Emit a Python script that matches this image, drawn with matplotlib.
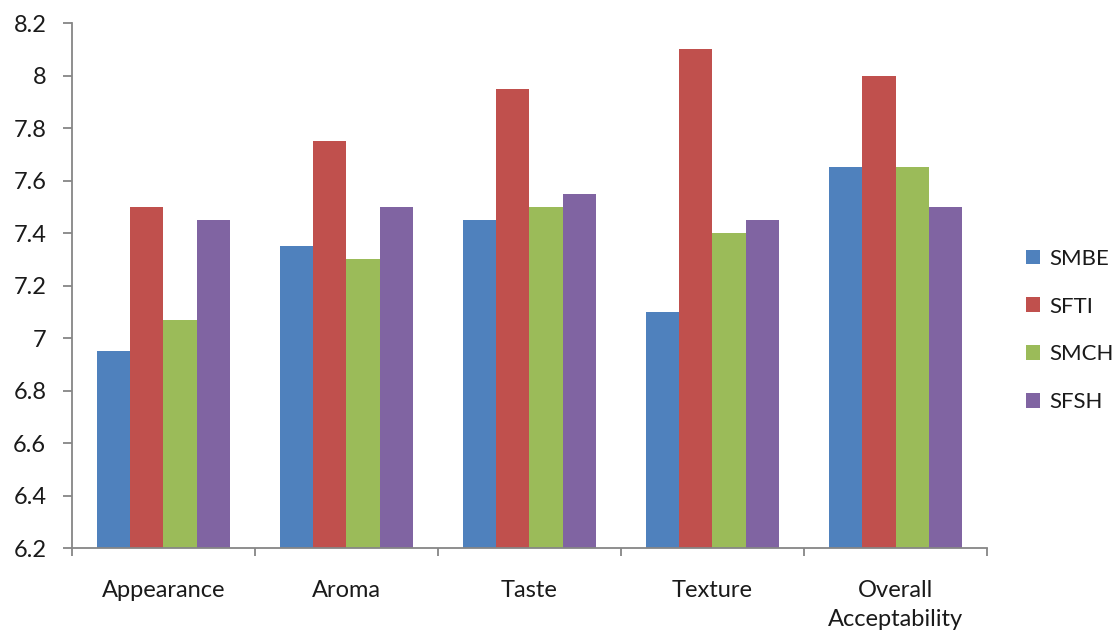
# Sensory scores of the four samples, grouped bars per attribute
import matplotlib.pyplot as plt
import numpy as np

plt.rcParams['font.family'] = ['Lato', 'DejaVu Sans']

attributes = ["Appearance", "Aroma", "Taste", "Texture", "Overall\nAcceptability"]
samples = ["SMBE", "SFTI", "SMCH", "SFSH"]

smbe = [6.95, 7.35, 7.45, 7.10, 7.65]
sfti = [7.50, 7.75, 7.95, 8.10, 8.00]
smch = [7.07, 7.30, 7.50, 7.40, 7.65]
sfsh = [7.45, 7.50, 7.55, 7.45, 7.50]

colors = ["#4F81BD", "#C0504D", "#9BBB59", "#8064A2"]
yticks = [6.2, 6.4, 6.6, 6.8, 7.0, 7.2, 7.4, 7.6, 7.8, 8.0, 8.2]
ytick_labels = ["6.2", "6.4", "6.6", "6.8", "7", "7.2", "7.4", "7.6", "7.8", "8", "8.2"]

fig = plt.figure(figsize=(11.14, 6.32), dpi=100)
ax = fig.add_axes([0.0646, 0.1329, 0.8214, 0.8307])

x = np.arange(len(attributes))
w = 1 / 5.5
for i, (vals, name) in enumerate(zip([smbe, sfti, smch, sfsh], samples)):
    ax.bar(x + (i - 1.5) * w, np.array(vals) - 6.2, w, bottom=6.2,
           color=colors[i], label=name, linewidth=0)

ax.set_xlim(-0.5, len(attributes) - 0.5)
ax.set_ylim(6.2, 8.2)

axis_grey = "#868686"
txt = "#1a1a1a"
for side in ["top", "right"]:
    ax.spines[side].set_visible(False)
for side in ["left", "bottom"]:
    ax.spines[side].set_color(axis_grey)
    ax.spines[side].set_linewidth(1.3)

ax.set_yticks(yticks)
ax.set_yticklabels(ytick_labels)
ax.tick_params(axis="y", length=6.5, width=1.3, color=axis_grey, pad=12,
               labelsize=17, labelcolor=txt)

ax.set_xticks(x)
ax.set_xticklabels(attributes, linespacing=1.5)
ax.tick_params(axis="x", which="major", length=0, pad=23, labelsize=17,
               labelcolor=txt)
ax.set_xticks(np.arange(len(attributes) + 1) - 0.5, minor=True)
ax.tick_params(axis="x", which="minor", length=6, width=1.3, color=axis_grey)

leg = ax.legend(loc="center left", bbox_to_anchor=(0.921, 0.477),
                bbox_transform=fig.transFigure, frameon=False, fontsize=16,
                handlelength=0.65, handleheight=0.65, handletextpad=0.4,
                labelspacing=1.25, borderpad=0, borderaxespad=0)
for t in leg.get_texts():
    t.set_color(txt)

fig.savefig("out.png", dpi=100)
